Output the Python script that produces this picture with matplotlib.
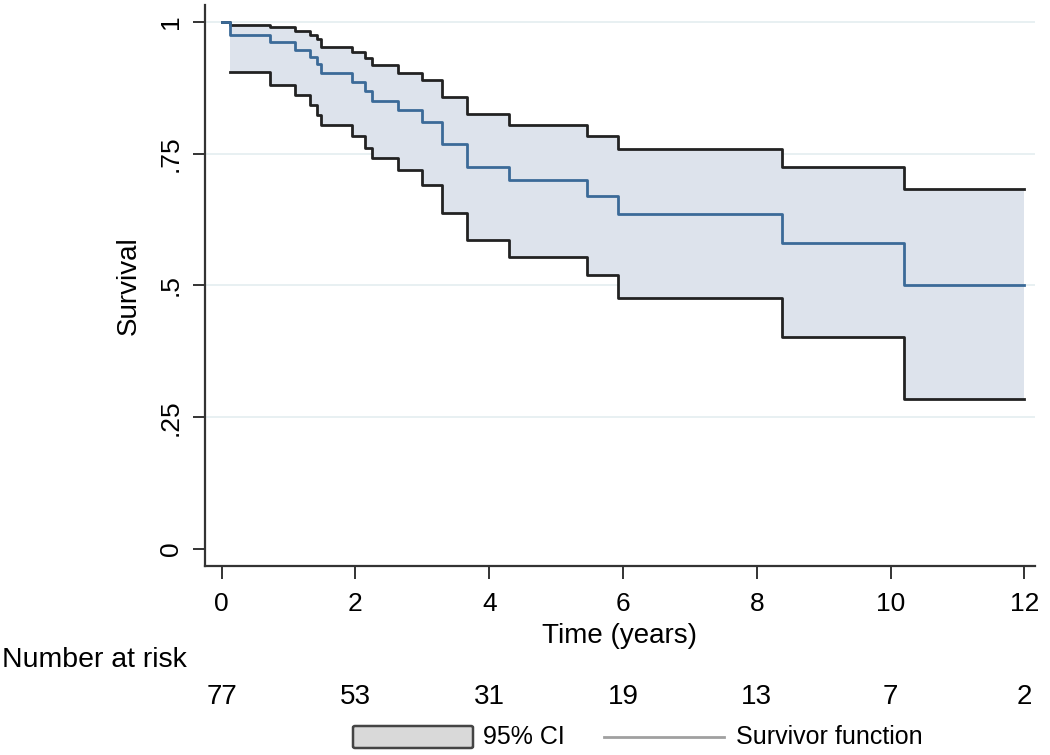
import matplotlib
matplotlib.use("Agg")
import matplotlib.pyplot as plt
from matplotlib.patches import FancyBboxPatch
from matplotlib.lines import Line2D
import matplotlib.transforms as mtransforms

plt.rcParams['font.family'] = ['Liberation Sans', 'DejaVu Sans']

# ---- data ----
step_times = [0, 0.12, 0.72, 1.09, 1.32, 1.42, 1.48, 1.95, 2.14, 2.24, 2.64,
              2.99, 3.29, 3.66, 4.30, 5.46, 5.92, 8.37, 10.20, 12.0]
survival = [1.0, 0.975, 0.961, 0.947, 0.934, 0.921, 0.903, 0.886, 0.868, 0.849,
            0.832, 0.811, 0.768, 0.724, 0.700, 0.670, 0.636, 0.581, 0.500, 0.500]
ci_upper = [1.0, 0.994, 0.990, 0.982, 0.975, 0.968, 0.953, 0.943, 0.931, 0.918,
            0.903, 0.889, 0.858, 0.825, 0.805, 0.784, 0.758, 0.725, 0.683, 0.683]
ci_lower = [1.0, 0.905, 0.880, 0.861, 0.842, 0.824, 0.805, 0.783, 0.760, 0.741,
            0.719, 0.691, 0.637, 0.586, 0.555, 0.520, 0.476, 0.403, 0.284, 0.284]

x_ticks = [0, 2, 4, 6, 8, 10, 12]
y_ticks = [0, 0.25, 0.5, 0.75, 1.0]
y_ticklabels = ['0', '.25', '.5', '.75', '1']
at_risk_times = [0, 2, 4, 6, 8, 10, 12]
at_risk = [77, 53, 31, 19, 13, 7, 2]

# ---- figure ----
W, H = 1050, 755
fig = plt.figure(figsize=(W / 100, H / 100), dpi=100)
ax = fig.add_axes([205 / W, 1 - 566 / H, (1035 - 205) / W, (566 - 5) / H])

fill_col = '#dde3ec'
ci_col = '#222222'
surv_col = '#3b6a98'
grid_col = '#e4eef0'

for yv in y_ticks[1:]:
    ax.axhline(yv, color=grid_col, lw=1.2, zorder=0)

ax.fill_between(step_times[1:], ci_lower[1:], ci_upper[1:], step='post',
                color=fill_col, lw=0, zorder=1)
ax.step(step_times, ci_upper, where='post', color=ci_col, lw=2.0, zorder=2)
ax.step(step_times[1:], ci_lower[1:], where='post', color=ci_col, lw=2.0, zorder=2)
ax.step(step_times, survival, where='post', color=surv_col, lw=2.0, zorder=3)

ax.set_xlim(-0.25, 12.16)
ax.set_ylim(-0.032, 1.032)
ax.spines['top'].set_visible(False)
ax.spines['right'].set_visible(False)
for s in ('left', 'bottom'):
    ax.spines[s].set_color('#333333')
    ax.spines[s].set_linewidth(1.6)

ax.set_xticks(x_ticks)
ax.set_xticklabels([str(v) for v in x_ticks], fontsize=19)
ax.set_yticks(y_ticks)
ax.set_yticklabels(y_ticklabels, fontsize=19, rotation=90, va='center')
ax.tick_params(axis='x', color='#333333', width=1.4, length=9, pad=10)
ax.tick_params(axis='y', color='#333333', width=1.4, length=9, pad=7)

ax.set_xlabel('Time (years)', fontsize=20, labelpad=5)
ax.set_ylabel('Survival', fontsize=20, labelpad=12)

# number at risk table
trans = mtransforms.blended_transform_factory(ax.transData, fig.transFigure)
fig.text(2 / W, 1 - 660 / H, 'Number at risk', fontsize=20.5, ha='left', va='center')
for t, n in zip(at_risk_times, at_risk):
    ax.text(t, 1 - 697 / H, str(n), transform=trans, fontsize=20,
            ha='center', va='center', clip_on=False)

# legend (drawn manually)
ly = 1 - 737 / H
fig.add_artist(FancyBboxPatch((353 / W, 1 - 748 / H), (473 - 353) / W, 22 / H,
                              boxstyle='round,pad=0,rounding_size=0.002',
                              transform=fig.transFigure, facecolor='#d9d9d9',
                              edgecolor='#444444', lw=1.8))
fig.text(483 / W, ly, '95% CI', fontsize=18, ha='left', va='center')
fig.add_artist(Line2D([604 / W, 724 / W], [ly, ly], transform=fig.transFigure,
                      color='#a0a0a0', lw=2))
fig.text(736 / W, ly, 'Survivor function', fontsize=18, ha='left', va='center')

fig.savefig('out.png', dpi=100)
